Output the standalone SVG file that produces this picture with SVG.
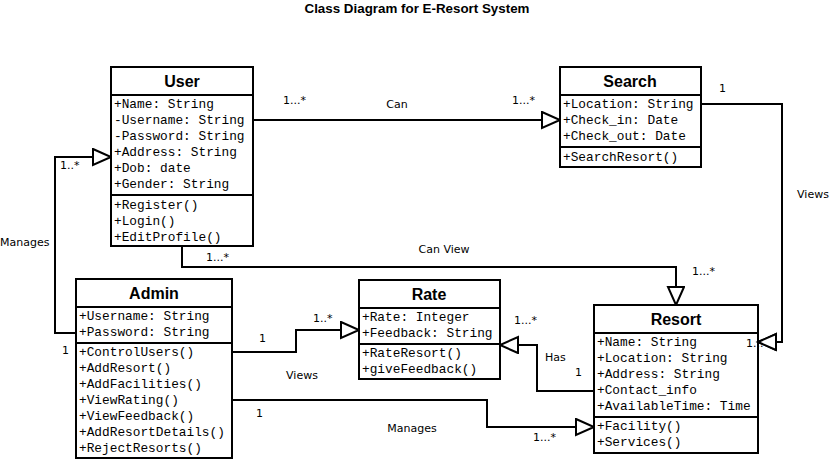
<svg xmlns="http://www.w3.org/2000/svg" width="831" height="461" viewBox="0 0 831 461">
  <style>
    .box { fill: #ffffff; stroke: #000000; stroke-width: 2; }
    .sep { stroke: #000000; stroke-width: 2; }
    .name { font-family: "Liberation Sans", Arial, sans-serif; font-weight: bold; font-size: 16px; text-anchor: middle; fill: #000; }
    .mem { font-family: "Liberation Mono", "Courier New", monospace; font-size: 12.8px; fill: #000; }
    .lbl { font-family: "DejaVu Sans", "Liberation Sans", sans-serif; font-size: 11px; fill: #000; }
    .mid { text-anchor: middle; }
    .edge { fill: none; stroke: #000000; stroke-width: 2; }
    .title { font-family: "Liberation Sans", Arial, sans-serif; font-weight: bold; font-size: 13px; text-anchor: middle; fill: #000; }
  </style>
  <defs>
    <marker id="tri" markerUnits="userSpaceOnUse" markerWidth="22" markerHeight="20" refX="19" refY="9" orient="auto">
      <path d="M1,1 L19,9 L1,17 Z" fill="#ffffff" stroke="#000000" stroke-width="2"/>
    </marker>
  </defs>

  <rect width="831" height="461" fill="#ffffff"/>

  <text class="title" x="417" y="13" textLength="225" lengthAdjust="spacingAndGlyphs">Class Diagram  for E-Resort System</text>

  <!-- connectors -->
  <g id="connectors">
    <path class="edge" d="M254 120 H560" marker-end="url(#tri)"/>
    <path class="edge" d="M701 104 H782 V342 H758" marker-end="url(#tri)"/>
    <path class="edge" d="M182 246 V267 H676 V305" marker-end="url(#tri)"/>
    <path class="edge" d="M76 333 H55 V157 H111" marker-end="url(#tri)"/>
    <path class="edge" d="M232 352 H296 V330 H359" marker-end="url(#tri)"/>
    <path class="edge" d="M594 391 H537 V345 H500" marker-end="url(#tri)"/>
    <path class="edge" d="M232 400 H487 V427 H594" marker-end="url(#tri)"/>
  </g>

  <!-- connector labels -->
  <g id="labels">
    <text class="lbl" x="283" y="104">1...*</text>
    <text class="lbl mid" x="397" y="108">Can</text>
    <text class="lbl" x="512" y="104">1...*</text>

    <text class="lbl" x="719" y="92">1</text>
    <text class="lbl mid" x="813" y="198">Views</text>

    <text class="lbl" x="206" y="261">1...*</text>
    <text class="lbl mid" x="444" y="253">Can View</text>
    <text class="lbl" x="692" y="275">1...*</text>

    <text class="lbl" x="60" y="169">1..*</text>
    <text class="lbl" x="0" y="246">Manages</text>
    <text class="lbl" x="62" y="354">1</text>

    <text class="lbl" x="259" y="342">1</text>
    <text class="lbl" x="313" y="322">1..*</text>
    <text class="lbl mid" x="302" y="379">Views</text>

    <text class="lbl" x="256" y="417">1</text>
    <text class="lbl mid" x="412" y="432">Manages</text>
    <text class="lbl" x="533" y="441">1...*</text>

    <text class="lbl" x="514" y="324">1...*</text>
    <text class="lbl" x="545" y="361">Has</text>
    <text class="lbl" x="575" y="376">1</text>
  </g>

  <!-- User -->
  <g id="user">
    <rect class="box" x="111" y="67" width="142" height="179"/>
    <line class="sep" x1="111" y1="95" x2="253" y2="95"/>
    <line class="sep" x1="111" y1="195" x2="253" y2="195"/>
    <text class="name" x="182" y="87">User</text>
    <text class="mem" x="114" y="108">+Name: String</text>
    <text class="mem" x="114" y="124">-Username: String</text>
    <text class="mem" x="114" y="140">-Password: String</text>
    <text class="mem" x="114" y="156">+Address: String</text>
    <text class="mem" x="114" y="172">+Dob: date</text>
    <text class="mem" x="114" y="188">+Gender: String</text>
    <text class="mem" x="114" y="209">+Register()</text>
    <text class="mem" x="114" y="225">+Login()</text>
    <text class="mem" x="114" y="241">+EditProfile()</text>
  </g>

  <!-- Search -->
  <g id="search">
    <rect class="box" x="560" y="67" width="141" height="100"/>
    <line class="sep" x1="560" y1="95" x2="701" y2="95"/>
    <line class="sep" x1="560" y1="147" x2="701" y2="147"/>
    <text class="name" x="630" y="87">Search</text>
    <text class="mem" x="563" y="108">+Location: String</text>
    <text class="mem" x="563" y="124">+Check_in: Date</text>
    <text class="mem" x="563" y="140">+Check_out: Date</text>
    <text class="mem" x="563" y="161">+SearchResort()</text>
  </g>

  <!-- Admin -->
  <g id="admin">
    <rect class="box" x="76" y="279" width="156" height="179"/>
    <line class="sep" x1="76" y1="307" x2="232" y2="307"/>
    <line class="sep" x1="76" y1="343" x2="232" y2="343"/>
    <text class="name" x="154" y="299">Admin</text>
    <text class="mem" x="79" y="320">+Username: String</text>
    <text class="mem" x="79" y="336">+Password: String</text>
    <text class="mem" x="79" y="356">+ControlUsers()</text>
    <text class="mem" x="79" y="372">+AddResort()</text>
    <text class="mem" x="79" y="388">+AddFacilities()</text>
    <text class="mem" x="79" y="404">+ViewRating()</text>
    <text class="mem" x="79" y="420">+ViewFeedback()</text>
    <text class="mem" x="79" y="436">+AddResortDetails()</text>
    <text class="mem" x="79" y="452">+RejectResorts()</text>
  </g>

  <!-- Rate -->
  <g id="rate">
    <rect class="box" x="359" y="280" width="141" height="99"/>
    <line class="sep" x1="359" y1="308" x2="500" y2="308"/>
    <line class="sep" x1="359" y1="344" x2="500" y2="344"/>
    <text class="name" x="429" y="300">Rate</text>
    <text class="mem" x="362" y="321">+Rate: Integer</text>
    <text class="mem" x="362" y="337">+Feedback: String</text>
    <text class="mem" x="362" y="357">+RateResort()</text>
    <text class="mem" x="362" y="373">+giveFeedback()</text>
  </g>

  <!-- Resort -->
  <g id="resort">
    <rect class="box" x="594" y="305" width="164" height="148"/>
    <line class="sep" x1="594" y1="333" x2="758" y2="333"/>
    <line class="sep" x1="594" y1="417" x2="758" y2="417"/>
    <text class="name" x="676" y="325">Resort</text>
    <text class="mem" x="597" y="346">+Name: String</text>
    <text class="mem" x="597" y="362">+Location: String</text>
    <text class="mem" x="597" y="378">+Address: String</text>
    <text class="mem" x="597" y="394">+Contact_info</text>
    <text class="mem" x="597" y="410">+AvailableTime: Time</text>
    <text class="mem" x="597" y="430">+Facility()</text>
    <text class="mem" x="597" y="446">+Services()</text>
  </g>

  <!-- multiplicity partly covered by the Views arrowhead -->
  <text class="lbl" x="746" y="347">1...*</text>
  <path d="M758 342 L776 334 L776 350 Z" fill="#ffffff" stroke="#000000" stroke-width="2"/>
</svg>
